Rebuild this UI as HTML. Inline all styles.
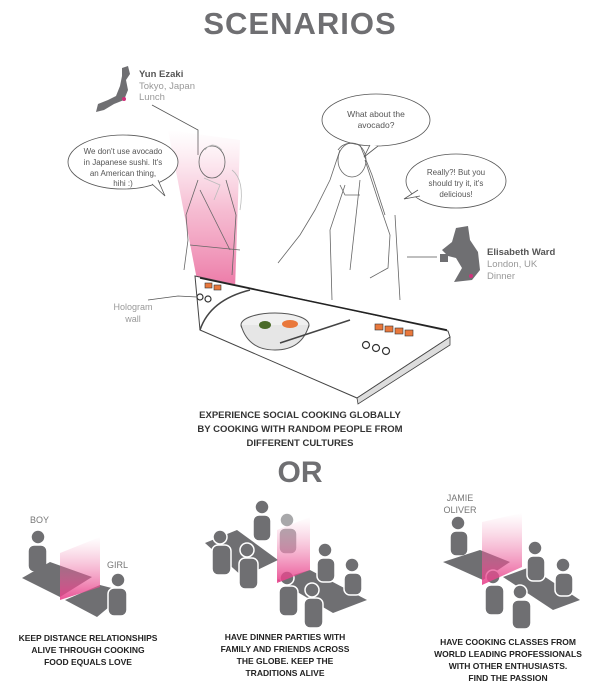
<!DOCTYPE html>
<html><head><meta charset="utf-8"><style>
body{margin:0;background:#fff;}
svg{display:block;font-family:"Liberation Sans",sans-serif;}
</style></head><body>
<svg width="600" height="687" viewBox="0 0 600 687" xmlns="http://www.w3.org/2000/svg">
<defs>
<linearGradient id="beam" x1="0" y1="0" x2="0" y2="1">
<stop offset="0" stop-color="#f4a6c4" stop-opacity="0"/>
<stop offset="0.5" stop-color="#ee86ad" stop-opacity="0.55"/>
<stop offset="1" stop-color="#e7558f" stop-opacity="0.8"/>
</linearGradient>
<linearGradient id="wall" x1="0" y1="0" x2="0" y2="1">
<stop offset="0" stop-color="#f08ab3" stop-opacity="0"/>
<stop offset="1" stop-color="#e83f8a" stop-opacity="0.9"/>
</linearGradient>
</defs>
<text x="300" y="34" text-anchor="middle" font-size="31" font-weight="bold" fill="#6f6f72" letter-spacing="1">SCENARIOS</text>

<!-- Japan map -->
<path d="M122 68 L128 66 L130 74 L126 80 L128 90 L124 100 L114 104 L104 110 L96 112 L98 104 L108 100 L116 96 L120 86 L122 76 Z" fill="#6f6f72"/>
<circle cx="124" cy="99" r="2" fill="#d0307a"/>
<text x="139" y="77" font-size="9.5" font-weight="bold" fill="#555">Yun Ezaki</text>
<text x="139" y="89" font-size="9.5" fill="#999">Tokyo, Japan</text>
<text x="139" y="100" font-size="9.5" fill="#999">Lunch</text>
<polyline points="152,105 198,130 198,155" fill="none" stroke="#555" stroke-width="0.8"/>

<!-- beam -->
<polygon points="168,130 240,140 235,290 198,285" fill="url(#beam)"/>

<!-- bubbles -->
<ellipse cx="123" cy="162" rx="55" ry="27" fill="#fff" stroke="#555" stroke-width="0.8"/>
<polyline points="152,184 165,196 158,180" fill="#fff" stroke="#555" stroke-width="0.8"/>
<text text-anchor="middle" font-size="8" fill="#555"><tspan x="123" y="154">We don't use avocado</tspan><tspan x="123" y="165">in Japanese sushi. It's</tspan><tspan x="123" y="176">an American thing,</tspan><tspan x="123" y="186">hihi :)</tspan></text>
<ellipse cx="376" cy="120" rx="54" ry="26" fill="#fff" stroke="#555" stroke-width="0.8"/>
<polyline points="370,145 364,157 378,146" fill="#fff" stroke="#555" stroke-width="0.8"/>
<text text-anchor="middle" font-size="8.5" fill="#555"><tspan x="376" y="117">What about the</tspan><tspan x="376" y="128">avocado?</tspan></text>
<ellipse cx="456" cy="181" rx="50" ry="27" fill="#fff" stroke="#555" stroke-width="0.8"/>
<polyline points="420,196 404,199 418,190" fill="#fff" stroke="#555" stroke-width="0.8"/>
<text text-anchor="middle" font-size="8" fill="#555"><tspan x="456" y="175">Really?! But you</tspan><tspan x="456" y="186">should try it, it's</tspan><tspan x="456" y="197">delicious!</tspan></text>

<!-- figures (sketchy) -->
<g fill="none" stroke="#666" stroke-width="0.8">
<ellipse cx="212" cy="162" rx="13" ry="16"/>
<path d="M198 180 L186 215 L188 240 L184 270 M226 180 L236 215 L232 275 M200 190 L230 250 M190 245 L240 250"/>
<path d="M205 150 Q212 140 222 150 M204 178 L220 185 L214 200 M232 170 Q245 180 240 210" stroke="#bbb"/>
<ellipse cx="352" cy="160" rx="14" ry="17"/>
<path d="M340 150 L330 180 L315 210 L300 235 L278 263 M365 160 L378 200 L390 235 L388 268 L370 278 M345 185 L330 230 L332 300 M360 180 L350 270 M395 215 L400 300"/>
<path d="M338 150 Q345 140 360 145 L372 175 L385 215 M340 185 L345 195 L360 195"/>
</g>

<!-- UK map -->
<path d="M456 228 L468 226 L470 240 L478 252 L480 270 L472 280 L454 282 L462 268 L456 258 L448 256 L442 250 L452 242 Z" fill="#6f6f72"/>
<path d="M440 254 L448 254 L448 262 L440 262 Z" fill="#6f6f72"/>
<circle cx="471" cy="276" r="2" fill="#d0307a"/>
<polyline points="407,257 437,257" fill="none" stroke="#555" stroke-width="0.8"/>
<text x="487" y="255" font-size="9.5" font-weight="bold" fill="#555">Elisabeth Ward</text>
<text x="487" y="267" font-size="9.5" fill="#999">London, UK</text>
<text x="487" y="279" font-size="9.5" fill="#999">Dinner</text>

<!-- counter -->
<polygon points="195,276 448,331 450,337 357,398 200,330" fill="#fff" stroke="#444" stroke-width="1"/>
<line x1="200" y1="278" x2="447" y2="330" stroke="#222" stroke-width="1.5"/>
<polygon points="357,398 450,337 450,345 358,404" fill="#ddd" stroke="#444" stroke-width="0.8"/>
<path d="M200 330 Q210 300 250 290" fill="none" stroke="#444" stroke-width="1.5"/>
<ellipse cx="275" cy="325" rx="34" ry="12" fill="#f0f0f0" stroke="#555"/>
<path d="M241 325 Q248 350 275 350 Q302 350 309 325" fill="#e6e6e6" stroke="#555"/>
<ellipse cx="265" cy="325" rx="6" ry="4" fill="#4b6b2a"/>
<ellipse cx="290" cy="324" rx="8" ry="4" fill="#e9783c"/>
<line x1="280" y1="343" x2="350" y2="320" stroke="#444" stroke-width="1.5"/>
<g fill="#e9783c" stroke="#333" stroke-width="0.6">
<rect x="375" y="324" width="8" height="6"/><rect x="385" y="326" width="8" height="6"/><rect x="395" y="328" width="8" height="6"/><rect x="405" y="330" width="8" height="6"/>
<rect x="205" y="283" width="7" height="5"/><rect x="214" y="285" width="7" height="5"/>
</g>
<g fill="#fff" stroke="#333" stroke-width="1.2">
<circle cx="366" cy="345" r="3.5"/><circle cx="376" cy="348" r="3.5"/><circle cx="386" cy="351" r="3.5"/>
<circle cx="200" cy="297" r="3"/><circle cx="208" cy="299" r="3"/>
</g>
<polyline points="148,300 178,296 197,297" fill="none" stroke="#555" stroke-width="0.8"/>
<text text-anchor="middle" font-size="9" fill="#999"><tspan x="133" y="310">Hologram</tspan><tspan x="133" y="322">wall</tspan></text>

<text text-anchor="middle" font-size="9.5" font-weight="bold" fill="#333"><tspan x="300" y="418">EXPERIENCE SOCIAL COOKING GLOBALLY</tspan><tspan x="300" y="432">BY COOKING WITH RANDOM PEOPLE FROM</tspan><tspan x="300" y="446">DIFFERENT CULTURES</tspan></text>
<text x="300" y="482" text-anchor="middle" font-size="30" font-weight="bold" fill="#6f6f72">OR</text>

<!-- bottom 1 -->
<text x="30" y="523" font-size="9" fill="#777">BOY</text>
<text x="107" y="568" font-size="9" fill="#777">GIRL</text>
<g fill="#6f6f72" stroke="#fff" stroke-width="1.5">
<rect x="28" y="545" width="19" height="27" rx="6"/><circle cx="38" cy="537" r="7"/>
<polygon points="22,578 50,562 92,577 60,597" stroke="none"/>
<polygon points="65,600 100,585 127,592 97,617" stroke="none"/>
<circle cx="118" cy="580" r="7"/><rect x="108" y="588" width="19" height="28" rx="6"/>
</g>
<polygon points="60,553 100,537 100,587 60,600" fill="url(#wall)"/>

<!-- bottom 2 -->
<g fill="#6f6f72" stroke="#fff" stroke-width="1.5">
<polygon points="205,543 237,530 278,560 243,577" stroke="none"/>
<polygon points="277,580 310,570 367,600 333,613" stroke="none"/>
<circle cx="262" cy="507" r="7"/><rect x="253" y="515" width="18" height="26" rx="6"/>
<circle cx="287" cy="520" r="7" opacity="0.6"/><rect x="279" y="528" width="18" height="26" rx="6" opacity="0.6"/>
<circle cx="220" cy="537" r="7"/><rect x="212" y="545" width="19" height="30" rx="6"/>
<circle cx="247" cy="550" r="7"/><rect x="239" y="558" width="19" height="31" rx="6"/>
<circle cx="325" cy="550" r="7"/><rect x="317" y="558" width="18" height="24" rx="6"/>
<circle cx="352" cy="565" r="7"/><rect x="344" y="573" width="18" height="22" rx="6"/>
<circle cx="287" cy="578" r="7"/><rect x="279" y="586" width="19" height="30" rx="6"/>
<circle cx="312" cy="590" r="7"/><rect x="304" y="598" width="19" height="30" rx="6"/>
</g>
<polygon points="277,530 310,517 310,570 277,583" fill="url(#wall)"/>

<!-- bottom 3 -->
<text text-anchor="middle" font-size="9" fill="#777"><tspan x="460" y="501">JAMIE</tspan><tspan x="460" y="513">OLIVER</tspan></text>
<g fill="#6f6f72" stroke="#fff" stroke-width="1.5">
<circle cx="458" cy="523" r="7"/><rect x="450" y="531" width="18" height="25" rx="6"/>
<polygon points="443,562 480,550 510,562 483,580" stroke="none"/>
<polygon points="503,577 530,567 580,600 553,610" stroke="none"/>
<circle cx="535" cy="548" r="7"/><rect x="527" y="556" width="18" height="25" rx="6"/>
<circle cx="563" cy="565" r="7"/><rect x="555" y="573" width="18" height="23" rx="6"/>
<circle cx="493" cy="577" r="7"/><rect x="485" y="585" width="19" height="30" rx="6"/>
<circle cx="520" cy="592" r="7"/><rect x="512" y="600" width="19" height="29" rx="6"/>
</g>
<polygon points="482,522 522,513 522,567 482,585" fill="url(#wall)"/>

<g text-anchor="middle" font-size="8.5" font-weight="bold" fill="#222">
<text><tspan x="88" y="641">KEEP DISTANCE RELATIONSHIPS</tspan><tspan x="88" y="653">ALIVE THROUGH COOKING</tspan><tspan x="88" y="665">FOOD EQUALS LOVE</tspan></text>
<text><tspan x="285" y="640">HAVE DINNER PARTIES WITH</tspan><tspan x="285" y="652">FAMILY AND FRIENDS ACROSS</tspan><tspan x="285" y="664">THE GLOBE. KEEP THE</tspan><tspan x="285" y="676">TRADITIONS ALIVE</tspan></text>
<text><tspan x="508" y="645">HAVE COOKING CLASSES FROM</tspan><tspan x="508" y="657">WORLD LEADING PROFESSIONALS</tspan><tspan x="508" y="669">WITH OTHER ENTHUSIASTS.</tspan><tspan x="508" y="681">FIND THE PASSION</tspan></text>
</g>
</svg>
</body></html>
